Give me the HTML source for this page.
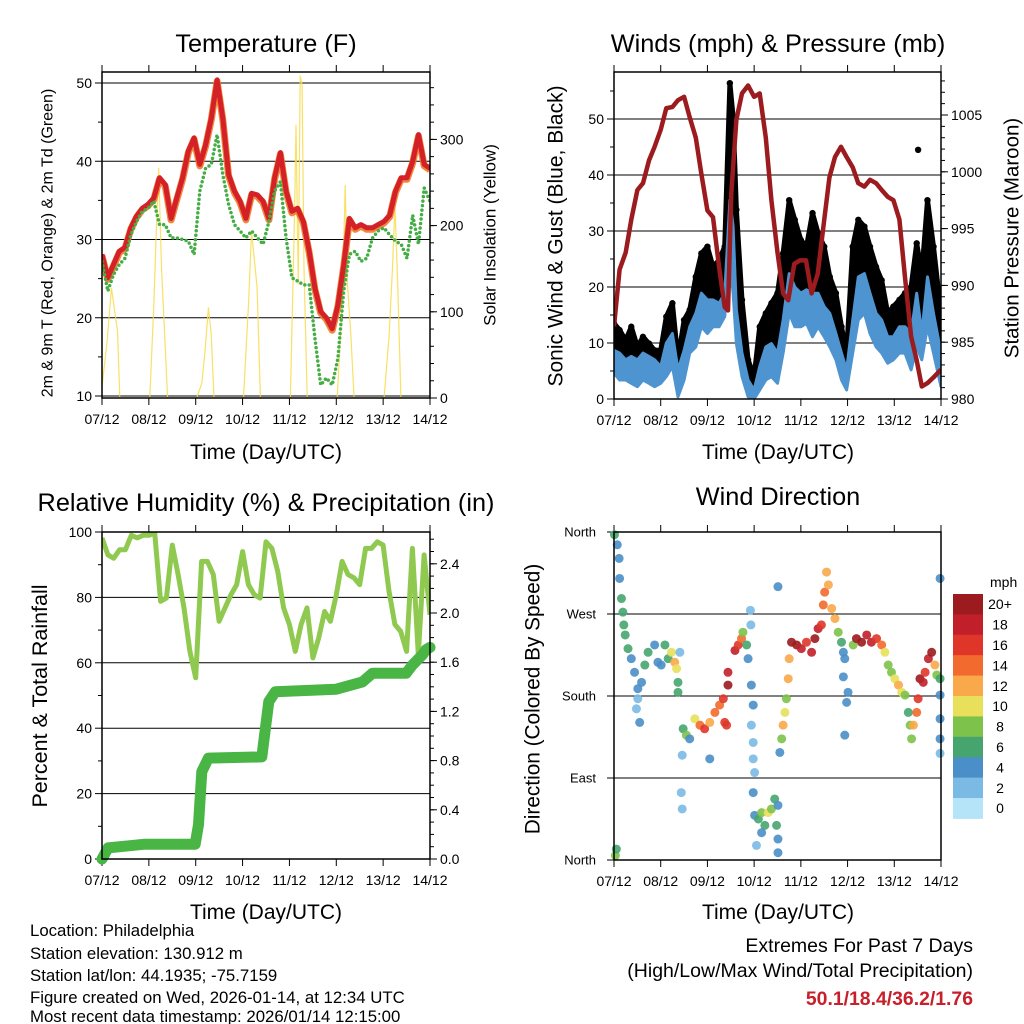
<!DOCTYPE html>
<html><head><meta charset="utf-8"><title>Weather Station Charts</title>
<style>
html,body{margin:0;padding:0;background:#fff;}
svg{display:block;font-family:"Liberation Sans",Arial,sans-serif;}
</style></head>
<body>
<svg id="chart" width="1024" height="1024" viewBox="0 0 1024 1024" xmlns="http://www.w3.org/2000/svg">
<rect x="0" y="0" width="1024" height="1024" fill="#fff"/>
<text x="266" y="52" font-size="25.3" text-anchor="middle">Temperature (F)</text>
<text x="778" y="52" font-size="25.3" text-anchor="middle">Winds (mph) &amp; Pressure (mb)</text>
<text x="266" y="511" font-size="25.3" text-anchor="middle">Relative Humidity (%) &amp; Precipitation (in)</text>
<text x="778" y="505" font-size="25.3" text-anchor="middle">Wind Direction</text>
<text x="266" y="459" font-size="21" text-anchor="middle">Time (Day/UTC)</text>
<text x="778" y="459" font-size="21" text-anchor="middle">Time (Day/UTC)</text>
<text x="266" y="919" font-size="21" text-anchor="middle">Time (Day/UTC)</text>
<text x="778" y="919" font-size="21" text-anchor="middle">Time (Day/UTC)</text>
<text transform="translate(48,243) rotate(-90)" font-size="16" text-anchor="middle" dominant-baseline="central">2m &amp; 9m T (Red, Orange) &amp; 2m Td (Green)</text>
<text transform="translate(490,235) rotate(-90)" font-size="17" text-anchor="middle" dominant-baseline="central">Solar Insolation (Yellow)</text>
<text transform="translate(556,236) rotate(-90)" font-size="21" text-anchor="middle" dominant-baseline="central">Sonic Wind &amp; Gust (Blue, Black)</text>
<text transform="translate(1012,238) rotate(-90)" font-size="20.5" text-anchor="middle" dominant-baseline="central">Station Pressure (Maroon)</text>
<text transform="translate(40,696) rotate(-90)" font-size="21.5" text-anchor="middle" dominant-baseline="central">Percent &amp; Total Rainfall</text>
<text transform="translate(533,699) rotate(-90)" font-size="20.8" text-anchor="middle" dominant-baseline="central">Direction (Colored By Speed)</text>
<g font-size="16.8">
<text x="30" y="936">Location: Philadelphia</text>
<text x="30" y="959">Station elevation: 130.912 m</text>
<text x="30" y="981">Station lat/lon: 44.1935; -75.7159</text>
<text x="30" y="1003">Figure created on Wed, 2026-01-14, at 12:34 UTC</text>
<text x="30" y="1025" dy="-3">Most recent data timestamp: 2026/01/14 12:15:00</text>
</g>
<text x="973" y="952" font-size="19.5" text-anchor="end">Extremes For Past 7 Days</text>
<text x="973" y="977" font-size="19.5" text-anchor="end">(High/Low/Max Wind/Total Precipitation)</text>
<text x="973" y="1005" font-size="19.4" font-weight="bold" fill="#c8202a" text-anchor="end">50.1/18.4/36.2/1.76</text>
</svg>
<script>
// ---------- DATA ----------
const dayLabels = ["07/12","08/12","09/12","10/12","11/12","12/12","13/12","14/12"];
const tempRed = [28.1,25.1,26.8,28.5,29,31.5,33,34,34.5,35.3,37.9,37,32.7,35.3,37.9,41.3,43,39.6,42.1,45.5,50.4,45.5,38.3,36.2,34.9,32.7,35.9,35.7,34.9,32.7,37.9,41.1,36.2,33.6,34,32.3,28.5,23.8,20.8,20,18.6,21.6,26.7,32.7,31.5,31.9,31.5,31.5,31.9,32.3,33.1,36.2,37.9,37.9,40,43.4,39.6,39.1];
const dewGreen = [27.2,23.4,25.5,26.8,27.6,30.6,32.3,33.6,34,34.9,31.9,31.9,30.2,30.2,30,29.8,28.1,36.2,39.1,39.6,43.4,38.3,34.5,31.9,31.1,30.2,31.1,30.2,29.4,32.3,36.2,37.4,30.2,25.1,24.7,24.2,24.2,17.4,11.4,12.3,11.4,14.8,23.4,28.1,28.5,27.2,27.6,30.2,31.1,31.5,30.6,29.8,29.4,27.6,33.1,29.4,36.6,34.9];
const solarDay = [0,0.11,0.2,0.24,0.33,0.38,1.02,1.11,1.16,1.21,1.27,1.34,1.4,2.02,2.13,2.2,2.27,2.33,2.39,3.02,3.13,3.19,3.24,3.31,3.38,4.02,4.11,4.14,4.19,4.23,4.27,4.31,4.38,5.02,5.13,5.19,5.24,5.31,5.38,6.02,6.13,6.2,6.25,6.31,6.38,7];
const solarVal = [13,67,128,113,78,0,0,113,197,267,151,70,0,0,17,55,105,74,0,0,113,193,167,128,0,0,216,317,132,374,363,151,0,0,113,247,132,74,0,0,74,151,224,132,0,0];
const windDay = [0,0.12,0.25,0.37,0.5,0.62,0.75,0.87,1.0,1.12,1.25,1.37,1.5,1.62,1.75,1.87,2.0,2.12,2.25,2.37,2.48,2.55,2.62,2.74,2.87,3.0,3.12,3.25,3.37,3.5,3.62,3.75,3.87,4.0,4.12,4.25,4.37,4.5,4.62,4.75,4.87,4.98,5.11,5.23,5.36,5.48,5.61,5.73,5.86,5.98,6.11,6.23,6.36,6.48,6.59,6.71,6.84,7.0];
const windHigh = [8.7,8.2,7,7.6,7,8.2,7.6,7,5.8,10,11.7,5.2,8.7,12.9,15.3,18.9,17.7,17.7,17.1,18.9,35.5,30.8,15.9,8.2,3.4,1.6,5.8,9.3,9.9,8.2,14.1,22.4,20,18.9,19.5,18.9,18.9,16.5,15.3,11.7,8.2,5.2,14.1,21.8,22.4,18.9,15.3,14.1,11.1,11.1,12.9,12.9,11.7,18.9,11.7,21.8,15.3,8.2];
const windLow = [4.6,3.4,3.4,2.8,2.2,3.4,2.8,2.2,2.8,4,5.8,0.4,3.4,8.2,9.3,12.9,11.7,12.9,12.9,14.7,24.8,18.9,9.9,4,0.4,0,1.6,3.4,4,2.8,8.2,15.3,12.9,12.9,13.5,11.1,12.9,11.1,9.3,7,3.4,1.6,8.2,14.1,15.3,11.7,9.3,8.2,6.4,7,8.2,8.2,5.2,9.3,7,12.9,8.2,2.2];
const gust = [13.5,12.3,10.5,12.9,9.3,11.1,9.9,8.7,8.7,14.7,17.1,7,14.1,15.9,21.8,26,27.2,23.6,24.8,27.2,56.4,50.4,33.8,17.7,7,4,12.9,15.3,17.1,18.9,26,35.5,32,28.4,27.2,33.2,29.6,27.2,21.8,18.9,12.9,8.2,27.2,32,30.8,27.2,23.6,21.2,15.3,16.5,17.7,18.9,20,27.8,22.4,35.5,27.2,15.3];
const gustOutlierDay = [6.51];
const gustOutlierVal = [44.5];
const presDay = [0,0.12,0.25,0.37,0.5,0.62,0.75,0.87,1.0,1.12,1.25,1.37,1.5,1.62,1.75,1.87,2.0,2.12,2.25,2.37,2.44,2.51,2.62,2.74,2.87,3.0,3.12,3.25,3.37,3.5,3.62,3.73,3.86,3.98,4.11,4.23,4.36,4.48,4.61,4.73,4.86,4.98,5.11,5.23,5.36,5.48,5.61,5.73,5.86,5.98,6.11,6.23,6.36,6.48,6.59,6.71,6.84,7.0];
const presVal = [986.4,991.4,992.9,995.8,998.4,999.0,1001.0,1002.2,1003.7,1005.6,1005.7,1006.3,1006.6,1004.8,1003.0,999.8,996.6,996.0,991.6,988.1,987.8,998.1,1004.6,1006.9,1007.6,1006.6,1006.9,1003.0,997.5,992.9,989.3,988.7,991.9,992.2,992.2,989.3,991.0,995.1,999.5,1001.3,1002.2,1001.3,1000.4,999.0,998.7,999.3,999.0,998.4,997.8,997.5,995.8,990.7,985.5,983.4,981.1,981.4,981.9,982.6];
const rhVal = [98.2,93,92,94.6,94.6,99,98.2,99,99,99.7,78.8,79.8,96,87,76.8,63.5,55.4,91,91,87,72.7,76.8,80.8,83.9,94,83.9,80.8,79.8,97,95,88,76.8,71.7,63.5,71.7,76.8,61.5,67.6,75.7,72.7,80.8,91,87,86,83.9,95,95,97,96,81.9,71.7,69.6,63.5,95,62.5,93,74.7];
const precDay = [0,0.13,0.91,1.99,2.06,2.13,2.27,3.41,3.56,3.7,4.99,5.56,5.77,6.49,6.63,6.84,6.91,7.0];
const precVal = [0,0.09,0.12,0.12,0.28,0.71,0.82,0.83,1.28,1.36,1.38,1.44,1.51,1.51,1.58,1.66,1.70,1.72];
const dirDay = [0.01,0.07,0.11,0.12,0.16,0.19,0.21,0.24,0.30,0.03,0.05,
 0.37,0.44,0.51,0.51,0.59,0.66,0.73,0.87,0.94,1.01,1.09,1.16,1.23,1.30,1.34,1.37,1.37,1.41,0.55,0.48,
 1.48,1.55,1.62,1.73,1.84,1.94,2.05,2.16,2.26,2.34,2.37,2.44,2.44,2.41,2.05,1.46,1.44,1.46,
 2.59,2.66,2.73,2.76,2.84,2.87,2.93,2.92,2.94,2.98,2.94,2.98,3.01,2.98,
 2.98,3.01,3.09,3.16,3.23,3.30,3.37,3.44,3.51,3.48,3.51,3.51,3.05,3.16,
 3.55,3.59,3.62,3.66,3.69,3.73,3.75,3.51,
 3.8,3.91,4.01,4.12,4.23,4.3,4.37,4.44,4.48,4.51,4.55,4.59,4.66,4.73,4.8,4.87,4.91,4.94,4.91,5.01,4.98,4.94,
 5.12,5.19,5.3,5.41,5.51,5.62,5.73,5.8,5.87,5.94,6.01,6.09,6.16,6.23,6.3,6.34,6.37,6.41,6.48,6.51,6.55,6.62,6.66,6.73,6.8,6.87,6.91,6.98,6.98,6.98,6.98,6.98,6.98];
const dirDeg = [357,346,331,309,287,272,258,247,232,5,12,
 221,206,188,177,195,214,228,236,217,214,236,221,228,217,210,195,184,228,151,166,
 144,137,133,155,148,144,151,162,170,177,151,192,206,148,111,115,74,56,
 230,236,243,250,236,221,258,274,192,170,148,129,96,111,
 74,49,45,52,38,52,56,67,60,38,23,8,16,30,
 118,133,148,162,177,199,221,300,
 239,236,232,239,228,243,254,258,280,294,316,302,276,265,250,239,228,221,201,184,173,137,
 236,243,239,247,239,243,236,228,214,206,199,192,184,181,162,148,133,148,162,177,199,195,206,221,228,214,203,199,181,155,133,117,309];
const dirSpd = [6,4,4,4,6,6,6,6,6,8,6,
 4,4,4,2,4,6,6,4,4,4,6,6,10,12,10,6,6,2,4,2,
 6,8,4,10,14,16,12,14,14,16,16,20,18,16,4,2,2,2,
 18,16,14,8,6,4,2,2,4,4,2,2,2,2,
 4,4,6,8,6,10,8,6,4,6,4,4,2,4,
 4,8,12,10,8,12,12,4,
 20,20,18,16,18,20,18,16,14,14,12,12,12,12,8,6,4,4,4,4,4,4,
 8,20,20,18,18,16,14,10,8,8,10,12,10,8,6,8,8,12,14,16,20,18,16,18,20,12,8,6,4,4,4,2,4];
const speedLabels = ["0","2","4","6","8","10","12","14","16","18","20+"];
const speedColors = ["#b5e3f7","#7bbae4","#4a8fc8","#46a56e","#7dc24a","#e8e05a","#f9a84a","#f26a2d","#e0362a","#c1202a","#9b1b1e"];

// ---------- HELPERS ----------
const NS = "http://www.w3.org/2000/svg";
const svg = document.getElementById('chart');
function mk(tag, attrs, parent){
  const e = document.createElementNS(NS, tag);
  for (const k in attrs) e.setAttribute(k, attrs[k]);
  (parent || svg).appendChild(e);
  return e;
}
const P1 = {x0:102,x1:430,y0:72,y1:398};
const P2 = {x0:614,x1:941,y0:72,y1:399};
const P3 = {x0:102,x1:430,y0:532,y1:859};
const P4 = {x0:614,x1:941,y0:532,y1:860};
const xs = (p,d) => p.x0 + d*(p.x1-p.x0)/7;
const yT = v => 396 - (v-10)*7.825;
const yS = s => 398 - s*0.862;
const yW = w => 399 - w*5.6;
const yP = p => 399 - (p-980)*11.36;
const yR = r => 859 - r*3.27;
const yPr = v => 859 - v*123;
const yD = d => 860 - d*328/360;
const idxDay = (i,n) => i*7/(n-1);

function clipFor(p, id){
  const cp = mk('clipPath', {id:id});
  mk('rect', {x:p.x0, y:p.y0, width:p.x1-p.x0, height:p.y1-p.y0}, cp);
  return 'url(#'+id+')';
}

function axes(p, name, left, right){
  const g = mk('g', {});
  
  
  left.majors.forEach(v => {
    const y = left.f(v);
    const l = mk('line', {x1:p.x0, x2:p.x1, y1:y, y2:y, stroke:'#000', 'stroke-width':1}, g);
    
    
  });
  left.minors.forEach(v => { const y = left.f(v); mk('line', {x1:p.x0-4, x2:p.x0, y1:y, y2:y, stroke:'#000'}, g); });
  left.majors.forEach((v,i) => {
    const y = left.f(v);
    mk('line', {x1:p.x0-7, x2:p.x0, y1:y, y2:y, stroke:'#000'}, g);
    const t = mk('text', {x:p.x0-left.pad, y:y, 'font-size':left.fs||14, 'text-anchor':'end', 'dominant-baseline':'central'}, g);
    t.textContent = left.labels[i];
    
    
  });
  if (right){
    right.minors.forEach(v => { const y = right.f(v); mk('line', {x1:p.x1, x2:p.x1+4, y1:y, y2:y, stroke:'#000'}, g); });
    right.majors.forEach((v,i) => {
      const y = right.f(v);
      mk('line', {x1:p.x1, x2:p.x1+7, y1:y, y2:y, stroke:'#000'}, g);
      const t = mk('text', {x:p.x1+10, y:y, 'font-size':14, 'text-anchor':'start', 'dominant-baseline':'central'}, g);
      t.textContent = right.labels[i];
      
      
    });
  }
  dayLabels.forEach((lab,i) => {
    const x = xs(p,i);
    mk('line', {x1:x, x2:x, y1:p.y1, y2:p.y1+7, stroke:'#000'}, g);
    mk('line', {x1:x, x2:x, y1:p.y0-7, y2:p.y0, stroke:'#000'}, g);
    const t = mk('text', {x:x, y:p.y1+26, 'font-size':14, 'text-anchor':'middle'}, g);
    t.textContent = lab;
    
    
  });
  return g;
}
function frame(p, name){
  const r = mk('rect', {x:p.x0, y:p.y0, width:p.x1-p.x0, height:p.y1-p.y0, fill:'none', stroke:'#000', 'stroke-width':1.5});
  
  
}
function range(a,b,s){ const o=[]; for(let v=a; v<=b+1e-9; v+=s) o.push(Math.round(v*1000)/1000); return o; }
function pts(days, vals, p, f){ return days.map((d,i) => xs(p,d).toFixed(1)+','+f(vals[i]).toFixed(1)).join(' '); }

// ---------- PANEL 1: TEMPERATURE ----------
axes(P1, 'temp',
  {f:yT, majors:[10,20,30,40,50], labels:["10","20","30","40","50"], minors:[15,25,35,45], pad:10},
  {f:yS, majors:[0,100,200,300], labels:["0","100","200","300"], minors:range(0,360,20)});
const c1 = clipFor(P1, 'clip1');
const tDays = tempRed.map((v,i) => idxDay(i,tempRed.length));
const gDays = dewGreen.map((v,i) => idxDay(i,dewGreen.length));
const solar = mk('polyline', {points:pts(solarDay, solarVal, P1, yS), fill:'none', stroke:'#f7dc4a', 'stroke-width':1.2, 'stroke-opacity':0.85, 'clip-path':c1});


const orange = mk('polyline', {points:pts(tDays, tempRed, P1, yT), fill:'none', stroke:'#f07a2a', 'stroke-width':7, 'stroke-linejoin':'round', 'stroke-opacity':0.9, transform:'translate(0,1.5)', 'clip-path':c1});


const red = mk('polyline', {points:pts(tDays, tempRed, P1, yT), fill:'none', stroke:'#d42027', 'stroke-width':5, 'stroke-linejoin':'round', 'clip-path':c1});


const green = mk('polyline', {points:pts(gDays, dewGreen, P1, yT), fill:'none', stroke:'#45ad45', 'stroke-width':3.5, 'stroke-dasharray':'0 4.5', 'stroke-linecap':'round', 'clip-path':c1});


frame(P1, 'temp');

// ---------- PANEL 2: WINDS ----------
axes(P2, 'winds',
  {f:yW, majors:[0,10,20,30,40,50], labels:["0","10","20","30","40","50"], minors:[5,15,25,35,45,55], pad:10},
  {f:yP, majors:[980,985,990,995,1000,1005], labels:["980","985","990","995","1000","1005"], minors:range(980,1008,1)});
const c2 = clipFor(P2, 'clip2');
const gustPoly = windDay.map((d,i)=>xs(P2,d).toFixed(1)+','+yW(gust[i]).toFixed(1)).concat(windDay.slice().reverse().map((d,j)=>{const i=windDay.length-1-j; return xs(P2,d).toFixed(1)+','+yW(windHigh[i]).toFixed(1);})).join(' ');
const gustArea = mk('polygon', {points:gustPoly, fill:'#000', stroke:'#000', 'stroke-width':5, 'stroke-linejoin':'round', 'clip-path':c2});


windDay.forEach((d,i) => {
  const dot = mk('circle', {cx:xs(P2,d), cy:yW(gust[i]), r:3.2, fill:'#000', 'clip-path':c2});
  
  
});
gustOutlierDay.forEach((d,i) => {
  const dot = mk('circle', {cx:xs(P2,d), cy:yW(gustOutlierVal[i]), r:3.2, fill:'#000'});
  
  
});
const bluePoly = windDay.map((d,i)=>xs(P2,d).toFixed(1)+','+yW(windHigh[i]).toFixed(1)).concat(windDay.slice().reverse().map((d,j)=>{const i=windDay.length-1-j; return xs(P2,d).toFixed(1)+','+yW(windLow[i]).toFixed(1);})).join(' ');
const blueArea = mk('polygon', {points:bluePoly, fill:'#4d94d0', stroke:'#4d94d0', 'stroke-width':3, 'stroke-linejoin':'round', 'clip-path':c2});


const pres = mk('polyline', {points:pts(presDay, presVal, P2, yP), fill:'none', stroke:'#9b1b1e', 'stroke-width':4.5, 'stroke-linejoin':'round', 'clip-path':c2});


frame(P2, 'winds');

// ---------- PANEL 3: HUMIDITY ----------
axes(P3, 'humidity',
  {f:yR, majors:[0,20,40,60,80,100], labels:["0","20","40","60","80","100"], minors:[10,30,50,70,90], pad:10},
  {f:yPr, majors:[0,0.4,0.8,1.2,1.6,2.0,2.4], labels:["0.0","0.4","0.8","1.2","1.6","2.0","2.4"], minors:range(0,2.6,0.1)});
const c3 = clipFor(P3, 'clip3');
const rhDays = rhVal.map((v,i) => idxDay(i,rhVal.length));
const rh = mk('polyline', {points:pts(rhDays, rhVal, P3, yR), fill:'none', stroke:'#8fc94f', 'stroke-width':5, 'stroke-linejoin':'round', 'clip-path':c3});


const prec = mk('polyline', {points:pts(precDay, precVal, P3, yPr), fill:'none', stroke:'#48b545', 'stroke-width':11, 'stroke-linejoin':'round', 'stroke-linecap':'round'});


frame(P3, 'humidity');

// ---------- PANEL 4: WIND DIRECTION ----------
axes(P4, 'direction',
  {f:yD, majors:[0,90,180,270,360], labels:["North","East","South","West","North"], minors:[], pad:18, fs:13},
  null);
dirDay.forEach((d,i) => {
  const ci = Math.min(10, Math.floor(dirSpd[i]/2));
  const dot = mk('circle', {cx:xs(P4,d), cy:yD(dirDeg[i]), r:4.5, fill:speedColors[ci], 'fill-opacity':0.9});
  
  
});
frame(P4, 'direction');

// colorbar
const cb = mk('g', {});


const cbTop = 594, cbH = 20.4;
const mph = mk('text', {x:990, y:587, 'font-size':14, 'text-anchor':'start'}, cb);
mph.textContent = 'mph';


speedColors.slice().reverse().forEach((col,j) => {
  const r = mk('rect', {x:953, y:cbTop + j*cbH, width:30, height:cbH+0.5, fill:col}, cb);
  
  
  const t = mk('text', {x:1000, y:cbTop + j*cbH + cbH/2, 'font-size':14, 'text-anchor':'middle', 'dominant-baseline':'central'}, cb);
  t.textContent = speedLabels[10-j];
  
  
});
</script>
</body></html>
